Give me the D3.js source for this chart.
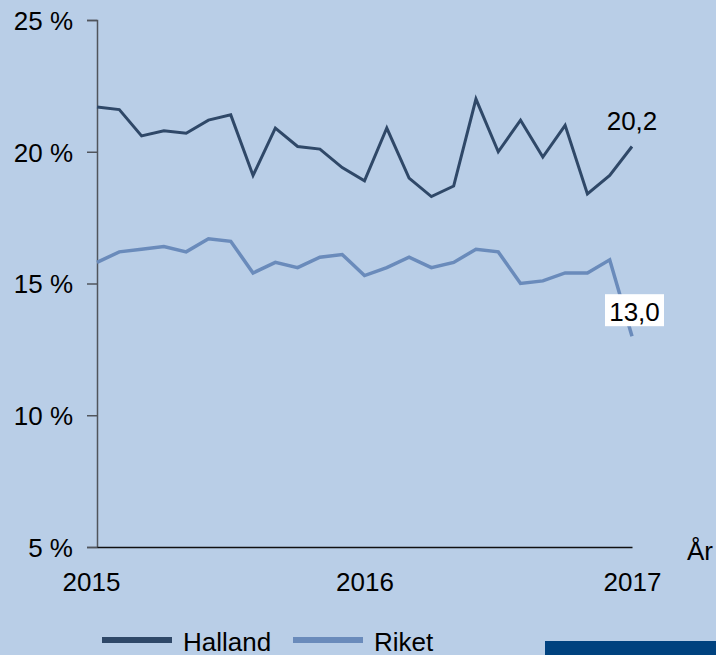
<!DOCTYPE html>
<html>
<head>
<meta charset="utf-8">
<script src="https://cdn.jsdelivr.net/npm/d3@7"></script>
<style>
  html, body { margin: 0; padding: 0; background: #b9cee7; }
  svg { display: block; }
  text { font-family: "Liberation Sans", Arial, sans-serif; fill: #000; }
</style>
</head>
<body>
<svg id="chart" width="716" height="655"></svg>
<script>
// Monthly values, Jan 2015 .. Jan 2017
const months = d3.range(25);
const halland = [21.7, 21.6, 20.6, 20.8, 20.7, 21.2, 21.4, 19.1, 20.9, 20.2, 20.1, 19.4,
                 18.9, 20.9, 19.0, 18.3, 18.7, 22.0, 20.0, 21.2, 19.8, 21.0, 18.4, 19.1, 20.2];
const riket   = [15.8, 16.2, 16.3, 16.4, 16.2, 16.7, 16.6, 15.4, 15.8, 15.6, 16.0, 16.1,
                 15.3, 15.6, 16.0, 15.6, 15.8, 16.3, 16.2, 15.0, 15.1, 15.4, 15.4, 15.9, 13.0];
const yTicks = [5, 10, 15, 20, 25];
const xTickIdx = [0, 12, 24];
const xTickLabels = ["2015", "2016", "2017"];
const seriesNames = ["Halland", "Riket"];
const endLabels = ["20,2", "13,0"];

const colors = { Halland: "#2f4868", Riket: "#6a8bbb" };

const svg = d3.select("#chart");
const x = d3.scaleLinear().domain([0, 24]).range([97, 632]);
const y = d3.scaleLinear().domain([5, 25]).range([547, 20]);

// y axis
const yAxis = d3.axisLeft(y).tickValues(yTicks).tickSize(10).tickPadding(14)
  .tickFormat(d => d + " %");
const gy = svg.append("g").attr("transform", `translate(${x(0)},0)`).call(yAxis);
gy.select(".domain").attr("stroke", "#50555c").attr("stroke-width", 1.5);
gy.selectAll(".tick line").attr("stroke", "#50555c").attr("stroke-width", 1.5);
gy.selectAll(".tick text").attr("font-size", 26).attr("font-family", "Liberation Sans, Arial, sans-serif")
  .attr("fill", "#000").attr("dy", "0.36em");

// x axis line
const xAxis = d3.axisBottom(x).tickValues(xTickIdx).tickSize(0).tickPadding(26)
  .tickFormat((d, i) => xTickLabels[i]);
const gx = svg.append("g").attr("transform", `translate(0,${y(5)})`).call(xAxis);
gx.select(".domain").attr("stroke", "#111").attr("stroke-width", 1.5);
gx.selectAll(".tick text").attr("font-size", 26).attr("font-family", "Liberation Sans, Arial, sans-serif")
  .attr("fill", "#000").attr("dx", (d, i) => i === 0 ? -6 : 0);

svg.append("text").attr("x", 687).attr("y", y(5) + 13).attr("font-size", 26).text("År");

// lines
const line = d3.line().x((d, i) => x(months[i])).y(d => y(d));
svg.append("path").datum(riket).attr("d", line).attr("fill", "none")
  .attr("stroke", colors.Riket).attr("stroke-width", 3.5).attr("stroke-linejoin", "miter");
svg.append("path").datum(halland).attr("d", line).attr("fill", "none")
  .attr("stroke", colors.Halland).attr("stroke-width", 3).attr("stroke-linejoin", "miter");

// end labels
const last = months.length - 1;
svg.append("text").attr("x", x(months[last])).attr("y", y(halland[last]) - 16)
  .attr("text-anchor", "middle").attr("font-size", 26).text(endLabels[0]);

const lbl2 = svg.append("g");
const ry = y(riket[last]);
lbl2.append("rect").attr("x", x(months[last]) - 27).attr("y", ry - 42)
  .attr("width", 59).attr("height", 32).attr("fill", "#fff");
lbl2.append("text").attr("x", x(months[last]) + 2.5).attr("y", ry - 15.5)
  .attr("text-anchor", "middle").attr("font-size", 26).text(endLabels[1]);

// legend
const legend = svg.append("g");
const legX = [102, 293];
seriesNames.forEach((n, i) => {
  legend.append("line").attr("x1", legX[i]).attr("x2", legX[i] + 70)
    .attr("y1", 640).attr("y2", 640).attr("stroke", colors[n]).attr("stroke-width", 6);
  legend.append("text").attr("x", legX[i] + 81).attr("y", 651).attr("font-size", 26).text(n);
});

// dark blue block bottom-right
svg.append("rect").attr("x", 545).attr("y", 641).attr("width", 171).attr("height", 14).attr("fill", "#00427f");
</script>
</body>
</html>
